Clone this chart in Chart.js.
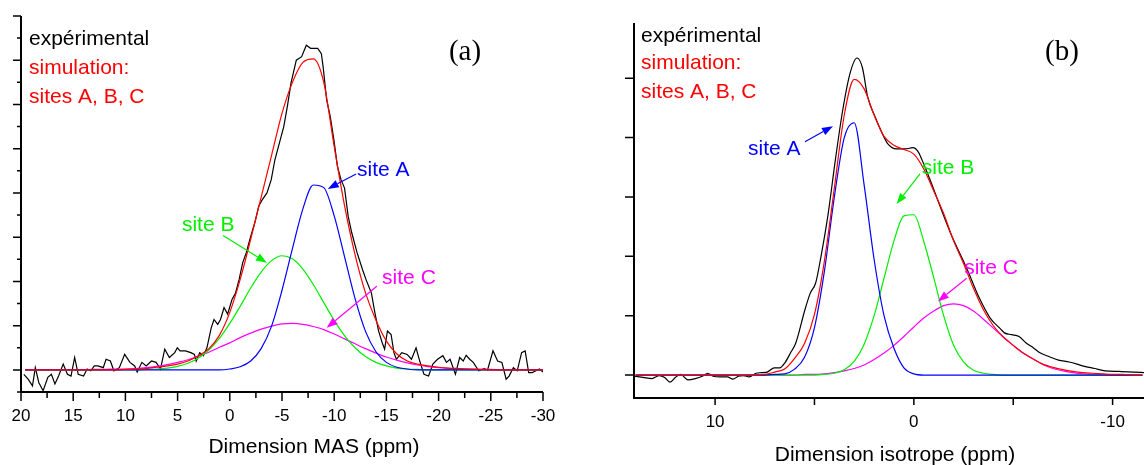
<!DOCTYPE html>
<html>
<head>
<meta charset="utf-8">
<script src="https://cdn.jsdelivr.net/npm/chart.js@4.4.1/dist/chart.umd.min.js"></script>
<style>
  html, body { margin: 0; padding: 0; background: #fff; }
  #wrap { position: relative; width: 1144px; height: 465px; overflow: hidden; }
  canvas { position: absolute; top: 0; }
  #ca { left: 0; }
  #cb { left: 572px; }
</style>
</head>
<body>
<div id="wrap">
  <canvas id="ca" width="572" height="465"></canvas>
  <canvas id="cb" width="572" height="465"></canvas>
</div>
<script>
// ---- panel (a) : Dimension MAS ----
const aGrid = [19.6, 19, 18, 17, 16, 15, 14, 13, 12, 11, 10, 9, 8, 7, 6, 5, 4, 3, 2, 1, 0,
  -1, -2, -3, -4, -5, -6, -7, -8, -9, -10, -11, -12, -13, -14, -15, -16, -17, -18, -19, -20,
  -21, -22, -23, -24, -25, -26, -27, -28, -29, -30]
const aSim = [0,0,0,0,0,0,0,0,0,0, 0.01,0.02,0.03,0.06,0.09,0.13,0.2,0.32,0.48,0.78,
  1.3,2.05,2.95,3.9,4.85,5.8,6.5,6.95,7.03,6.5, 5.05,3.7,2.6,1.74,1.12,0.65,0.36,0.2,0.13,0.09,
  0.06,0.04,0.03,0.02,0.01,0,0,0,0,0, 0]
const aSiteA = [0,0,0,0,0,0,0,0,0,0, 0,0,0,0,0,0,0,0,0,0,
  0.02,0.07,0.2,0.48,0.99,1.8,2.74,3.64,4.18,4.12, 3.48,2.55,1.61,0.87,0.41,0.17,0.06,0.02,0,0,
  0,0,0,0,0,0,0,0,0,0, 0]
const aSiteB = [0,0,0,0,0,0,0,0,0,0, 0,0,0.01,0.02,0.04,0.08,0.15,0.27,0.45,0.71,
  1.05,1.44,1.85,2.21,2.47,2.58,2.51,2.28,1.93,1.52, 1.12,0.77,0.5,0.3,0.17,0.09,0.04,0.02,0.01,0,
  0,0,0,0,0,0,0,0,0,0, 0]
const aSiteC = [0,0,0,0,0,0,0,0.01,0.01,0.02, 0.02,0.03,0.05,0.08,0.12,0.17,0.23,0.31,0.4,0.51,
  0.61,0.73,0.83,0.92,0.99,1.04,1.05,1.03,0.98,0.91, 0.81,0.7,0.59,0.48,0.38,0.29,0.22,0.16,0.11,0.075,
  0.05,0.03,0.02,0.015,0.01,0.01,0,0,0,0, 0]

// experimental spectrum (a), read point by point
const aExpPpm = [19.73, 19.32, 18.90, 18.63, 18.29, 17.88, 17.43, 17.09, 16.75, 16.40,
  15.96, 15.55, 15.21, 14.86, 14.52, 14.01, 13.66, 13.32, 12.98, 12.64,
  12.12, 11.85, 11.44, 11.10, 10.58, 10.07, 9.56, 9.11, 8.87, 8.42,
  8.01, 7.50, 7.06, 6.64, 6.23, 5.79, 5.27, 5.03, 4.76, 4.25,
  3.73, 3.39, 3.22, 2.88, 2.53, 2.19, 1.78, 1.51, 1.16, 0.89,
  0.55, 0.21, -0.21, -0.55, -0.89, -1.23, -1.58, -1.92, -2.43, -2.77,
  -3.12, -3.56, -3.97, -4.32, -4.83, -5.17, -5.51, -5.86, -6.37, -6.88,
  -7.33, -7.74, -8.42, -8.77, -8.94, -9.28, -9.62, -9.97, -10.31, -10.65,
  -10.99, -11.34, -11.68, -12.19, -12.71, -13.05, -13.56, -13.90, -14.25, -14.59,
  -14.83, -15.10, -15.45, -15.72, -15.96, -16.47, -16.99, -17.40, -17.84, -18.19,
  -18.60, -19.04, -19.45, -19.90, -20.41, -20.75, -21.10, -21.61, -22.02, -22.36,
  -22.64, -22.98, -23.32, -23.84, -24.35, -24.69, -25.21, -25.65, -26.06, -26.47,
  -26.75, -27.16, -27.53, -27.95, -28.29, -28.63, -28.97, -29.32, -29.66, -30.0]
const aExpInt = [-0.10, -0.21, -0.36, 0.05, -0.29, -0.47, -0.17, -0.10, -0.32, -0.14,
  0.13, -0.10, -0.14, 0.28, -0.10, -0.14, 0.02, -0.02, 0.09, 0.09,
  0.05, 0.24, 0.20, -0.02, 0.05, 0.35, 0.17, 0.09, -0.05, 0.17,
  0.09, 0.20, 0.17, 0.02, 0.47, 0.28, 0.39, 0.50, 0.43, 0.43,
  0.39, 0.35, 0.20, 0.39, 0.32, 0.50, 0.95, 1.14, 1.03, 1.14,
  1.41, 1.26, 1.59, 1.74, 2.04, 2.42, 2.65, 2.95, 3.36, 3.70,
  3.85, 4.00, 4.30, 4.75, 5.20, 5.50, 5.95, 6.48, 7.00, 7.08,
  7.34, 7.27, 7.27, 7.15, 6.85, 6.10, 5.73, 5.20, 4.60, 4.30,
  4.11, 3.47, 3.10, 2.65, 2.27, 2.04, 1.74, 1.29, 0.88, 0.62,
  0.47, 0.88, 0.80, 0.39, 0.24, 0.39, 0.35, 0.24, 0.50, 0.20,
  -0.10, -0.14, 0.13, 0.24, 0.32, 0.17, 0.24, -0.10, 0.28, 0.20,
  0.33, 0.24, 0.17, -0.02, 0.03, 0.00, 0.43, 0.20, 0.17, -0.21,
  -0.14, 0.05, -0.02, 0.39, 0.43, -0.06, -0.06, -0.02, 0.02, -0.05]

const aMajorX = [20, 15, 10, 5, 0, -5, -10, -15, -20, -25, -30]
const aLabelsX = ['20', '15', '10', '5', '0', '-5', '-10', '-15', '-20', '-25', '-30']
const aMinorX = [17.5, 12.5, 7.5, 2.5, -2.5, -7.5, -12.5, -17.5, -22.5, -27.5]
const aMajorY = [0, 1, 2, 3, 4, 5, 6, 7, 8]
const aMinorY = [-0.5, 0.5, 1.5, 2.5, 3.5, 4.5, 5.5, 6.5, 7.5]

// ---- panel (b) : Dimension isotrope ----
const bGrid = [14, 13.5, 13, 12.5, 12, 11.5, 11, 10.5, 10, 9.5, 9, 8.5, 8, 7.5, 7, 6.5, 6, 5.5, 5, 4.5,
  4, 3.5, 3, 2.5, 2, 1.5, 1, 0.5, 0, -0.5, -1, -1.5, -2, -2.5, -3, -3.5, -4, -4.5, -5, -5.5,
  -6, -6.5, -7, -7.5, -8, -8.5, -9, -9.5, -10, -10.5, -11, -11.5]
const bSim = [0,0,0,0,0,0,0,0,0,0, 0,0,0,0.01,0.05,0.1,0.28,0.53,1.02,1.92,
  3.15,4.38,4.98,4.82,4.38,4.02,3.87,3.8,3.72,3.47, 3.1,2.72,2.26,1.88,1.46,1.1,0.83,0.64,0.5,0.37,
  0.27,0.18,0.13,0.09,0.06,0.04,0.03,0.02,0.01,0.01, 0,0]
const bSiteA = [0,0,0,0,0,0,0,0,0,0, 0,0,0,0,0.01,0.02,0.1,0.3,0.8,1.75,
  3.0,4.0,4.25,3.2,1.95,1.0,0.45,0.12,0.02,0, 0,0,0,0,0,0,0,0,0,0,
  0,0,0,0,0,0,0,0,0,0, 0,0]
const bSiteB = [0,0,0,0,0,0,0,0,0,0, 0,0,0,0,0,0,0,0,0,0.01,
  0.03,0.09,0.23,0.52,1.0,1.63,2.26,2.68,2.7,2.25, 1.64,1.0,0.5,0.22,0.08,0.03,0.01,0,0,0,
  0,0,0,0,0,0,0,0,0,0, 0,0]
const bSiteC = [0,0,0,0,0,0,0,0,0,0, 0,0,0,0,0,0,0,0.01,0.01,0.02,
  0.04,0.07,0.11,0.17,0.26,0.37,0.5,0.65,0.81,0.96, 1.08,1.17,1.2,1.17,1.08,0.94,0.79,0.64,0.5,0.37,
  0.27,0.18,0.11,0.07,0.04,0.02,0.01,0.01,0,0, 0,0]

const bExpPpm = [14.08, 13.63, 13.18, 12.81, 12.54, 12.27, 12.0, 11.73, 11.37, 11.0,
  10.64, 10.37, 10.10, 9.74, 9.38, 9.10, 8.83, 8.56, 8.29, 7.93,
  7.66, 7.38, 7.02, 6.75, 6.48, 6.21, 5.94, 5.48, 5.21, 4.94,
  4.67, 4.31, 3.95, 3.58, 3.22, 2.86, 2.59, 2.32, 1.95, 1.59,
  1.32, 0.87, 0.42, 0.05, -0.22, -0.49, -0.85, -1.30, -1.85, -2.66,
  -3.29, -3.84, -4.38, -4.56, -4.92, -5.29, -5.65, -6.01, -6.37, -6.73,
  -7.28, -7.82, -8.54, -9.09, -9.63, -10.35, -11.08, -11.58]
const bExpInt = [-0.02, -0.04, -0.06, -0.01, -0.04, -0.12, -0.04, 0.01, -0.08, -0.06,
  -0.02, 0.03, -0.02, -0.03, -0.03, -0.07, -0.02, -0.01, -0.03, 0.03,
  0.04, 0.05, 0.12, 0.12, 0.21, 0.37, 0.54, 1.10, 1.38, 1.55,
  2.00, 2.72, 3.62, 4.46, 5.07, 5.34, 5.18, 4.68, 4.35, 4.07,
  3.90, 3.81, 3.81, 3.83, 3.76, 3.56, 3.26, 2.86, 2.39, 1.80,
  1.30, 0.96, 0.77, 0.71, 0.68, 0.65, 0.54, 0.46, 0.37, 0.32,
  0.25, 0.22, 0.15, 0.11, 0.07, 0.06, 0.05, 0.04]

const bMajorX = [10, 5, 0, -5, -10]
const bLabelsX = ['10', '', '0', '', '-10']
const bMajorY = [0, 1, 2, 3, 4, 5]

const legendLines = ['expérimental', 'simulation:', 'sites A, B, C']

const FONT = '"Liberation Sans", Arial, sans-serif'
const COL = { exp: '#000000', sim: '#ff0000', A: '#0000ff', B: '#00ee00', C: '#ff00ff' }

function pts(xs, ys) {
  return xs.map((v, i) => ({ x: v, y: ys[i] }))
}

function arrow(ctx, x1, y1, x2, y2, color) {
  const ang = Math.atan2(y2 - y1, x2 - x1)
  const len = 11, w = 4
  const bx = x2 - len * Math.cos(ang), by = y2 - len * Math.sin(ang)
  ctx.strokeStyle = color
  ctx.fillStyle = color
  ctx.lineWidth = 1.2
  ctx.beginPath()
  ctx.moveTo(x1, y1)
  ctx.lineTo(bx, by)
  ctx.stroke()
  ctx.beginPath()
  ctx.moveTo(x2, y2)
  ctx.lineTo(bx + w * Math.sin(ang), by - w * Math.cos(ang))
  ctx.lineTo(bx - w * Math.sin(ang), by + w * Math.cos(ang))
  ctx.closePath()
  ctx.fill()
}

// axes, ticks, texts and arrows, all placed through the chart scales
const decor = {
  id: 'decor',
  afterDatasetsDraw(chart, args, o) {
    const ctx = chart.ctx, a = chart.chartArea
    const x = chart.scales.x, y = chart.scales.y
    ctx.save()
    ctx.strokeStyle = '#000'
    ctx.lineWidth = 2
    ctx.beginPath()
    ctx.moveTo(a.left, a.top)
    ctx.lineTo(a.left, a.bottom)
    ctx.lineTo(a.right, a.bottom)
    ctx.stroke()

    ctx.lineWidth = 1.5
    ctx.beginPath()
    o.xMajor.forEach(v => { const p = x.getPixelForValue(v); ctx.moveTo(p, a.bottom); ctx.lineTo(p, a.bottom + o.xMajorLen) })
    o.xMinor.forEach(v => { const p = x.getPixelForValue(v); ctx.moveTo(p, a.bottom); ctx.lineTo(p, a.bottom + o.xMinorLen) })
    o.yMajor.forEach(v => { const p = y.getPixelForValue(v); ctx.moveTo(a.left, p); ctx.lineTo(a.left - o.yMajorLen, p) })
    o.yMinor.forEach(v => { const p = y.getPixelForValue(v); ctx.moveTo(a.left, p); ctx.lineTo(a.left - o.yMinorLen, p) })
    ctx.stroke()

    ctx.fillStyle = '#000'
    ctx.textAlign = 'center'
    ctx.textBaseline = 'middle'
    ctx.font = '17px ' + FONT
    o.xMajor.forEach((v, i) => ctx.fillText(o.xLabels[i], x.getPixelForValue(v), o.labelY))
    ctx.font = '21px ' + FONT
    ctx.fillText(o.title, o.titleX, o.titleY)

    ctx.font = '29px "Liberation Serif", "Times New Roman", serif'
    ctx.fillText(o.tag, o.tagX, o.tagY)

    ctx.textAlign = 'left'
    ctx.font = '21px ' + FONT
    legendLines.forEach((t, i) => {
      ctx.fillStyle = i === 0 ? COL.exp : COL.sim
      ctx.fillText(t, o.legendX, o.legendY[i])
    })

    o.notes.forEach(n => {
      ctx.fillStyle = n.color
      ctx.fillText(n.text, x.getPixelForValue(n.tx), y.getPixelForValue(n.ty))
      arrow(ctx, x.getPixelForValue(n.ax), y.getPixelForValue(n.ay),
        x.getPixelForValue(n.hx), y.getPixelForValue(n.hy), n.color)
    })
    ctx.restore()
  }
}

function line(label, data, color, order, smooth) {
  return {
    label, data, borderColor: color, borderWidth: 1.2, pointRadius: 0, fill: false, order,
    tension: 0, cubicInterpolationMode: smooth ? 'monotone' : 'default'
  }
}

function makeChart(id, datasets, xr, yr, pad, deco) {
  return new Chart(document.getElementById(id).getContext('2d'), {
    type: 'line',
    data: { datasets },
    options: {
      responsive: false,
      animation: false,
      devicePixelRatio: 1,
      parsing: true,
      layout: { padding: pad },
      plugins: { legend: { display: false }, tooltip: { enabled: false }, decor: deco },
      scales: {
        x: { type: 'linear', reverse: true, min: xr[0], max: xr[1], display: false },
        y: { type: 'linear', min: yr[0], max: yr[1], display: false }
      }
    },
    plugins: [decor]
  })
}

makeChart('ca', [
  line('simulation', pts(aGrid, aSim), COL.sim, 0, true),
  line('site A', pts(aGrid, aSiteA), COL.A, 1, true),
  line('site B', pts(aGrid, aSiteB), COL.B, 2, true),
  line('site C', pts(aGrid, aSiteC), COL.C, 3, true),
  line('expérimental', pts(aExpPpm, aExpInt), COL.exp, 4, false)
], [-30, 20], [-0.5, 8], { left: 21, right: 29, top: 16, bottom: 73 }, {
  xMajor: aMajorX, xLabels: aLabelsX, xMinor: aMinorX, yMajor: aMajorY, yMinor: aMinorY,
  xMajorLen: 9, xMinorLen: 6, yMajorLen: 8, yMinorLen: 4,
  labelY: 416, title: 'Dimension MAS (ppm)', titleX: 314, titleY: 447,
  tag: '(a)', tagX: 465, tagY: 52, legendX: 29, legendY: [39, 68, 97],
  notes: [
    { text: 'site A', color: COL.A, tx: -12.19, ty: 4.52, ax: -12.1, ay: 4.43, hx: -9.38, hy: 4.09 },
    { text: 'site B', color: COL.B, tx: 4.59, ty: 3.26, ax: 0.65, ay: 3.04, hx: -3.56, hy: 2.42 },
    { text: 'site C', color: COL.C, tx: -14.59, ty: 2.08, ax: -14.08, ay: 1.89, hx: -9.28, hy: 0.95 }
  ]
})

makeChart('cb', [
  line('simulation', pts(bGrid, bSim), COL.sim, 0, true),
  line('site A', pts(bGrid, bSiteA), COL.A, 1, true),
  line('site B', pts(bGrid, bSiteB), COL.B, 2, true),
  line('site C', pts(bGrid, bSiteC), COL.C, 3, true),
  line('expérimental', pts(bExpPpm, bExpInt), COL.exp, 4, true)
], [-11.58, 14.08], [-0.387, 5.93], { left: 62, right: 0, top: 23, bottom: 67 }, {
  xMajor: bMajorX, xLabels: bLabelsX, xMinor: [], yMajor: bMajorY, yMinor: [],
  xMajorLen: 7, xMinorLen: 0, yMajorLen: 9, yMinorLen: 0,
  labelY: 422, title: 'Dimension isotrope (ppm)', titleX: 323, titleY: 455,
  tag: '(b)', tagX: 490, tagY: 52, legendX: 69, legendY: [36, 63, 92],
  notes: [
    { text: 'site A', color: COL.A, tx: 8.34, ty: 3.80, ax: 5.48, ay: 3.93, hx: 4.07, hy: 4.19 },
    { text: 'site B', color: COL.B, tx: -0.40, ty: 3.48, ax: -0.31, ay: 3.39, hx: 0.87, hy: 2.88 },
    { text: 'site C', color: COL.C, tx: -2.53, ty: 1.80, ax: -2.66, ay: 1.63, hx: -1.21, hy: 1.24 }
  ]
})
</script>
</body>
</html>
